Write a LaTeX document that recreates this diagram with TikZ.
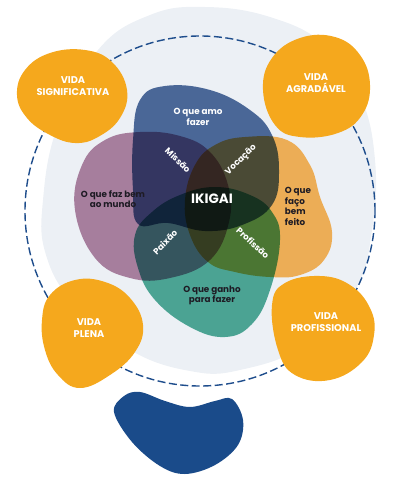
\documentclass[tikz,border=0pt]{standalone}
\usepackage{fontspec}
\setmainfont{Poppins}
\definecolor{bgc}{HTML}{ECF0F5}
\definecolor{dashc}{HTML}{1E4D8C}
\definecolor{orb}{HTML}{F5A81D}
\definecolor{botb}{HTML}{1A4B8A}
\definecolor{vblue}{RGB}{80,110,158}
\definecolor{vpurp}{RGB}{180,134,164}
\definecolor{vorng}{RGB}{255,184,90}
\definecolor{vteal}{RGB}{82,174,154}
\definecolor{darktxt}{HTML}{1E1B24}
\begin{document}
\begin{tikzpicture}[x=1pt,y=1pt,
  blob/.style={fill=orb, draw=none},
  venn/.style={draw=none, blend mode=multiply},
  biglbl/.style={font=\fontsize{9.8}{12}\selectfont\bfseries, text=white, align=center, inner sep=0pt},
  wlbl/.style={font=\fontsize{8.8}{11}\selectfont\bfseries, text=white, align=center, inner sep=0pt},
  dlbl/.style={font=\fontsize{8.8}{10.6}\selectfont\bfseries, text=darktxt, align=center, inner sep=0pt},
  rlbl/.style={font=\fontsize{8.6}{9}\selectfont\bfseries, text=white, inner sep=0pt}]
\useasboundingbox (0,0) rectangle (406,-500);
% background blob
\fill[bgc] plot[smooth cycle, tension=0.7] coordinates {(205,-7) (270,-17) (325,-45) (360,-95) (375,-160) (372,-230) (355,-290) (305,-345) (240,-370) (190,-371) (130,-350) (75,-305) (46,-255) (43,-200) (58,-125) (98,-50) (150,-15)};
% dashed circle
\draw[dashc, line width=1.4pt, dash pattern=on 8pt off 3.5pt] (200,-211) circle (175);
% venn
\begin{scope}
\fill[venn, vblue] plot[smooth cycle, tension=0.7] coordinates {(133,-140) (140,-100) (165,-86) (210,-90) (250,-110) (272,-135) (279,-170) (272,-205) (242,-225) (205,-231) (168,-223) (138,-224) (133,-190)};
\fill[venn, vpurp] plot[smooth cycle, tension=0.7] coordinates {(75,-210) (82,-165) (105,-140) (140,-132) (180,-136) (210,-152) (228,-185) (229,-222) (210,-260) (170,-278) (130,-278) (95,-258)};
\fill[venn, vorng] plot[smooth cycle, tension=0.7] coordinates {(185,-200) (195,-165) (215,-145) (245,-137) (287,-140) (310,-165) (320,-197) (332,-232) (324,-260) (300,-275) (270,-277) (235,-272) (208,-262) (190,-235)};
\fill[venn, vteal] plot[smooth cycle, tension=0.7] coordinates {(135,-235) (152,-212) (180,-195) (215,-187) (250,-195) (272,-212) (280,-240) (270,-290) (252,-324) (225,-337) (190,-327) (155,-300) (138,-268)};
\end{scope}
% orange blobs
\fill[blob] plot[smooth cycle, tension=0.7] coordinates {(17,-95) (25,-70) (50,-53) (85,-50) (112,-62) (127,-90) (120,-118) (98,-137) (75,-143) (50,-135) (27,-118)};
\fill[blob] plot[smooth cycle, tension=0.7] coordinates {(263,-90) (272,-58) (300,-38) (335,-37) (360,-55) (370,-85) (362,-115) (338,-133) (300,-137) (275,-125)};
\fill[blob] plot[smooth cycle, tension=0.7] coordinates {(42,-320) (50,-295) (75,-280) (105,-282) (130,-298) (143,-325) (135,-352) (110,-375) (80,-388) (58,-375) (45,-350)};
\fill[blob] plot[smooth cycle, tension=0.7] coordinates {(272,-305) (285,-283) (320,-276) (350,-285) (370,-308) (374,-335) (362,-362) (330,-380) (295,-375) (278,-350)};
% bottom blob
\fill[botb] plot[smooth cycle, tension=0.6] coordinates {(114,-412) (124,-396) (140,-392) (165,-401) (190,-407) (215,-401) (232,-399) (243,-420) (238,-445) (215,-465) (185,-474) (160,-466) (132,-442)};
% texts
\node[biglbl] (vs) at (73,-86) {VIDA\\SIGNIFICATIVA};
\node[biglbl] (va) at (316,-83) {VIDA\\AGRADÁVEL};
\node[biglbl] (vp) at (89,-328) {VIDA\\PLENA};
\node[biglbl] (vpr) at (326,-322) {VIDA\\PROFISSIONAL};
\node[wlbl] (amo) at (198,-116.5) {O que amo\\fazer};
\node[dlbl] (mundo) at (113,-199) {O que faz bem\\ao mundo};
\node[dlbl, align=left] (faco) at (298,-206.5) {O que\\faço\\bem\\feito};
\node[dlbl] (ganho) at (212,-295.5) {O que ganho\\para fazer};
\node[font=\fontsize{13.5}{14}\selectfont\bfseries, text=white, inner sep=0pt] (ikigai) at (212,-199) {IKIGAI};
\node[rlbl, rotate=-44] (missao) at (178,-160) {Missão};
\node[rlbl, rotate=44] (vocacao) at (241,-160) {Vocação};
\node[rlbl, rotate=45] (paixao) at (165,-242) {Paixão};
\node[rlbl, rotate=-43] (profissao) at (253,-243) {Profissão};
\end{tikzpicture}
\end{document}
